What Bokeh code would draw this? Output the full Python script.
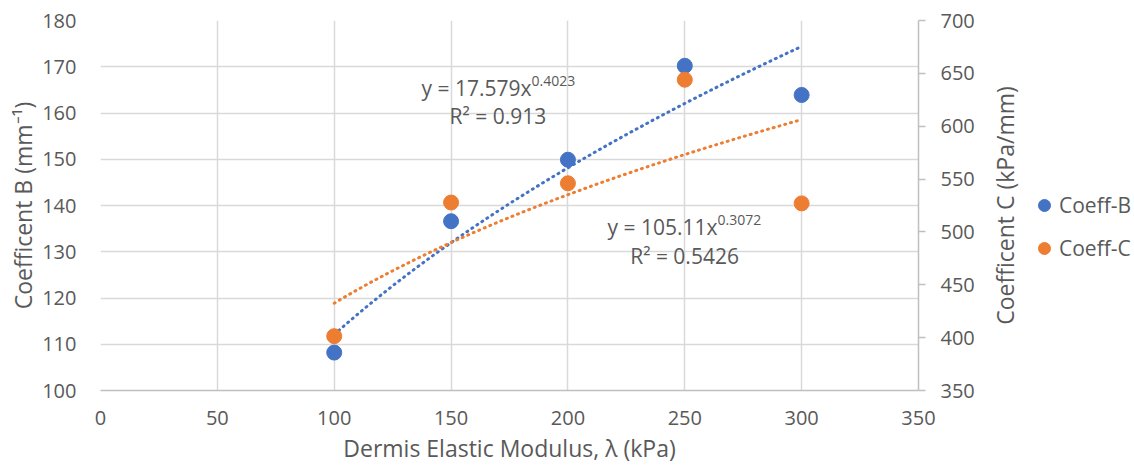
import numpy as np
from bokeh.plotting import figure
from bokeh.layouts import row
from bokeh.models import (Range1d, LinearAxis, Legend, LegendItem, Label,
                          FixedTicker)
from bokeh.embed import file_html
from bokeh.resources import INLINE

# ---------------- data ----------------
modulus = [100, 150, 200, 250, 300]
coeff_b = [108.2, 136.6, 149.9, 170.2, 163.9]
coeff_c = [401.4, 527.8, 546.0, 644.0, 527.0]

# power trendlines y = a * x^b (as printed on the chart)
trend_b = [17.579, 0.4023]
trend_c = [105.11, 0.3072]
r2_b = "0.913"
r2_c = "0.5426"

x_ticks = [0, 50, 100, 150, 200, 250, 300, 350]
b_ticks = [100, 110, 120, 130, 140, 150, 160, 170, 180]
c_ticks = [350, 400, 450, 500, 550, 600, 650, 700]

FONT = "Open Sans"
TXT = "#595959"
BLUE = "#4472C4"
ORANGE = "#ED7D31"
GRID = "#D9D9D9"
TITLE_SIZE = "23px"

p = figure(width=985, height=467,
           min_border_left=100, min_border_right=67,
           min_border_top=20, min_border_bottom=77,
           x_range=Range1d(0, 350), y_range=Range1d(100, 180),
           output_backend="svg", toolbar_location=None,
           background_fill_color="white", border_fill_color="white")
p.outline_line_color = None
p.extra_y_ranges = {"c": Range1d(350, 700)}

# grid
p.xgrid.ticker = FixedTicker(ticks=x_ticks)
p.ygrid.ticker = FixedTicker(ticks=b_ticks)
for g in (p.xgrid[0], p.ygrid[0]):
    g.grid_line_color = GRID
    g.grid_line_width = 1.5

# bottom axis
xa = p.xaxis[0]
xa.ticker = FixedTicker(ticks=x_ticks)
xa.axis_line_color = "#BFBFBF"
xa.axis_line_width = 1.5
xa.major_tick_line_color = None
xa.minor_tick_line_color = None
xa.major_label_standoff = 14
xa.major_label_text_font = FONT
xa.major_label_text_font_size = "20px"
xa.major_label_text_color = TXT
xa.axis_label = "Dermis Elastic Modulus, λ (kPa)"
xa.axis_label_text_font = FONT
xa.axis_label_text_font_size = TITLE_SIZE
xa.axis_label_text_font_style = "normal"
xa.axis_label_text_color = TXT
xa.axis_label_standoff = 4

# left axis
ya = p.yaxis[0]
ya.ticker = FixedTicker(ticks=b_ticks)
ya.axis_line_color = None
ya.major_tick_line_color = None
ya.minor_tick_line_color = None
ya.major_label_standoff = 18
ya.major_label_text_font = FONT
ya.major_label_text_font_size = "20px"
ya.major_label_text_color = TXT
ya.axis_label = "Coefficent B (mm⁻¹)"
ya.axis_label_text_font = FONT
ya.axis_label_text_font_size = TITLE_SIZE
ya.axis_label_text_font_style = "normal"
ya.axis_label_text_color = TXT
ya.axis_label_standoff = 0

# right axis (ticks + labels; its title is drawn by the side panel figure)
ra = LinearAxis(y_range_name="c", ticker=FixedTicker(ticks=c_ticks))
ra.axis_line_color = "#BFBFBF"
ra.axis_line_width = 1.5
ra.major_tick_line_color = "#BFBFBF"
ra.major_tick_line_width = 1.5
ra.major_tick_in = 0
ra.major_tick_out = 7
ra.minor_tick_line_color = None
ra.major_label_standoff = 15
ra.major_label_text_font = FONT
ra.major_label_text_font_size = "20px"
ra.major_label_text_color = TXT
p.add_layout(ra, "right")

# trendlines
xs = np.linspace(modulus[0], modulus[-1], 200)
p.line(xs, trend_b[0] * xs ** trend_b[1], line_color=BLUE, line_width=3,
       line_dash="1 5", line_cap="round")
p.line(xs, trend_c[0] * xs ** trend_c[1], line_color=ORANGE, line_width=3,
       line_dash="1 5", line_cap="round", y_range_name="c")

# points
p.scatter(modulus, coeff_b, size=15, fill_color=BLUE, line_color=BLUE)
p.scatter(modulus, coeff_c, size=15, fill_color=ORANGE, line_color=ORANGE,
          y_range_name="c")

# equation labels
def eq(x, y, main, sup, r2, rx, ry):
    p.add_layout(Label(x=x, y=y, text=main, text_align="right",
                       text_baseline="middle", text_font=FONT,
                       text_font_size="21px", text_color=TXT))
    p.add_layout(Label(x=x, y=y, y_offset=7, text=sup, text_align="left",
                       text_baseline="middle", text_font=FONT,
                       text_font_size="14px", text_color=TXT))
    p.add_layout(Label(x=rx, y=ry, text="R² = " + r2, text_align="center",
                       text_baseline="middle", text_font=FONT,
                       text_font_size="21px", text_color=TXT))

eq(184.4, 165.3, "y = %gx" % trend_b[0], "%g" % trend_b[1], r2_b, 170.0, 159.4)
eq(264.0, 135.3, "y = %gx" % trend_c[0], "%g" % trend_c[1], r2_c, 249.9, 129.1)

# ---------- side panel: right-axis title + legend ----------
p2 = figure(width=149, height=467,
            min_border_left=32, min_border_right=0,
            min_border_top=20, min_border_bottom=77,
            x_range=Range1d(0, 1), y_range=Range1d(0, 1),
            x_axis_location=None, y_axis_location="left",
            output_backend="svg", toolbar_location=None,
            background_fill_color="white", border_fill_color="white")
p2.outline_line_color = None
p2.grid.visible = False
a2 = p2.yaxis[0]
a2.ticker = FixedTicker(ticks=[])
a2.axis_line_color = None
a2.major_tick_line_color = None
a2.minor_tick_line_color = None
a2.major_label_standoff = 0
a2.axis_label = "Coefficent C (kPa/mm)"
a2.axis_label_text_font = FONT
a2.axis_label_text_font_size = TITLE_SIZE
a2.axis_label_text_font_style = "normal"
a2.axis_label_text_color = TXT
a2.axis_label_standoff = 0

# legend proxies: same series, lying outside this panel's (0..1) ranges
lb = p2.scatter(modulus, coeff_b, size=15, fill_color=BLUE, line_color=BLUE)
lc = p2.scatter(modulus, coeff_c, size=15, fill_color=ORANGE, line_color=ORANGE)
legend = Legend(items=[LegendItem(label="Coeff-B", renderers=[lb]),
                       LegendItem(label="Coeff-C", renderers=[lc])],
                location=(9, 127), orientation="vertical",
                label_text_font=FONT, label_text_font_size="21px",
                label_text_color=TXT, glyph_width=30, glyph_height=30,
                label_standoff=0, spacing=13, padding=6, margin=0,
                background_fill_alpha=0, border_line_color=None)
p2.add_layout(legend, "center")

open("out.html", "w").write(file_html(row(p, p2), INLINE))
